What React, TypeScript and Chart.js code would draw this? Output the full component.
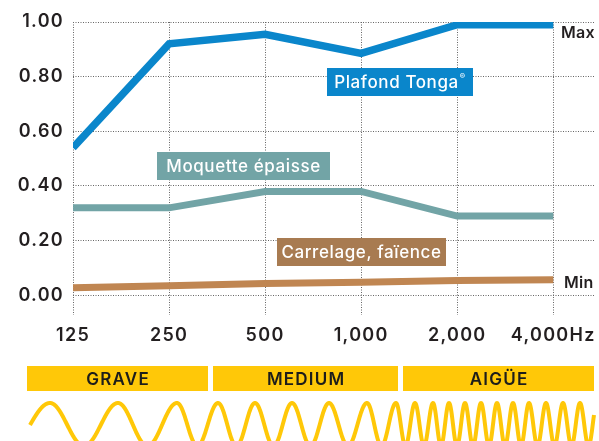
import React, { useEffect, useRef } from 'react';
import { Chart, registerables } from 'chart.js';

Chart.register(...registerables);

// ---- data ----
const frequencies = ['125', '250', '500', '1,000', '2,000', '4,000Hz'];
const plafondTonga = [0.54, 0.92, 0.955, 0.885, 0.99, 0.99];
const moquetteEpaisse = [0.32, 0.32, 0.38, 0.38, 0.29, 0.29];
const carrelageFaience = [0.028, 0.035, 0.043, 0.048, 0.054, 0.057];
const yTickValues = [0, 0.2, 0.4, 0.6, 0.8, 1.0];
const seriesNames = ['Plafond Tonga', 'Moquette épaisse', 'Carrelage, faïence'];
const bandLabels = ['GRAVE', 'MEDIUM', 'AIGÜE'];
const scaleEndLabels = ['Max', 'Min'];

// ---- styles / decoration layout ----
const FONT = 'Inter, "Noto Sans", sans-serif';
const TEXT = '#231f20';
const TICK_SPACING = '1.3px';
const colors = {
  blue: '#0a86cb',
  teal: '#72a4a6',
  brown: '#c08652',
  brownBox: '#a87b51',
  yellow: '#ffc808',
  grid: '#666666',
};

const seriesBoxes = [
  { x: 327, y: 68, w: 146, h: 28, bg: colors.blue, sup: '®' },
  { x: 157, y: 152, w: 173, h: 28, bg: colors.teal, sup: '' },
  { x: 277, y: 238, w: 169, h: 28, bg: colors.brownBox, sup: '' },
];

const bandBoxes = [
  { x0: 27, x1: 208 },
  { x0: 213, x1: 398 },
  { x0: 403, x1: 594 },
];
const bandTop = 366;
const bandBottom = 391;

const wave = {
  xStart: 30,
  xEnd: 594,
  startY: 425,
  peakY: 403,
  amp: 21.5,
  width: 4,
  peaks: [50, 118, 177, 218, 255, 292, 329, 367, 396, 415, 433, 449, 465, 481, 497, 513, 529, 546, 563, 580],
};

const setSpacing = (ctx: any, v: string) => {
  if ('letterSpacing' in ctx) ctx.letterSpacing = v;
};

const spacingPlugin = {
  id: 'spacing',
  beforeUpdate(chart: any) {
    setSpacing(chart.ctx, TICK_SPACING);
  },
  beforeDraw(chart: any) {
    setSpacing(chart.ctx, TICK_SPACING);
  },
};

const decorPlugin = {
  id: 'decor',
  afterDatasetsDraw(chart: any) {
    const ctx: CanvasRenderingContext2D = chart.ctx;
    ctx.save();
    setSpacing(ctx, '0.6px');
    seriesBoxes.forEach((b, i) => {
      ctx.fillStyle = b.bg;
      ctx.fillRect(b.x, b.y, b.w, b.h);
      const main = seriesNames[i];
      ctx.font = `500 17px ${FONT}`;
      const mw = ctx.measureText(main).width;
      ctx.font = `500 8px ${FONT}`;
      const sw = b.sup ? ctx.measureText(b.sup).width + 1 : 0;
      const tx = b.x + (b.w - mw - sw) / 2;
      const cy = b.y + b.h / 2 + 0.5;
      ctx.fillStyle = '#ffffff';
      ctx.textBaseline = 'middle';
      ctx.textAlign = 'left';
      ctx.font = `500 17px ${FONT}`;
      ctx.fillText(main, tx, cy);
      if (b.sup) {
        ctx.font = `500 8px ${FONT}`;
        ctx.fillText(b.sup, tx + mw + 1, cy - 6);
      }
    });
    ctx.restore();
  },
  afterDraw(chart: any) {
    const ctx: CanvasRenderingContext2D = chart.ctx;
    const yScale = chart.scales.y;
    ctx.save();
    // Max / Min labels
    setSpacing(ctx, '0.3px');
    ctx.fillStyle = TEXT;
    ctx.font = `600 16px ${FONT}`;
    ctx.textAlign = 'left';
    ctx.textBaseline = 'middle';
    ctx.fillText(scaleEndLabels[0], 561, yScale.getPixelForValue(1) + 11);
    ctx.fillText(scaleEndLabels[1], 564, yScale.getPixelForValue(0) - 12.5);

    // bands
    setSpacing(ctx, '1.2px');
    bandBoxes.forEach((b, i) => {
      ctx.fillStyle = colors.yellow;
      ctx.fillRect(b.x0, bandTop, b.x1 - b.x0, bandBottom - bandTop);
      ctx.fillStyle = '#1d1d1b';
      ctx.font = `600 17px ${FONT}`;
      ctx.textAlign = 'center';
      ctx.textBaseline = 'middle';
      ctx.fillText(bandLabels[i], (b.x0 + b.x1) / 2 + 0.6, (bandTop + bandBottom) / 2 + 1);
    });

    // waves
    const c = wave.peakY + wave.amp;
    const ratio = Math.max(-1, Math.min(1, (c - wave.startY) / wave.amp));
    const phi0 = Math.acos(ratio);
    const pk = wave.peaks;
    const phaseAt = (x: number) => {
      if (x <= pk[0]) return -phi0 * (pk[0] - x) / (pk[0] - wave.xStart);
      for (let k = 0; k < pk.length - 1; k++) {
        if (x <= pk[k + 1]) return 2 * Math.PI * (k + (x - pk[k]) / (pk[k + 1] - pk[k]));
      }
      const last = pk.length - 1;
      const per = pk[last] - pk[last - 1];
      return 2 * Math.PI * (last + (x - pk[last]) / per);
    };
    ctx.beginPath();
    for (let x = wave.xStart; x <= wave.xEnd; x += 0.25) {
      const y = c - wave.amp * Math.cos(phaseAt(x));
      if (x === wave.xStart) ctx.moveTo(x, y);
      else ctx.lineTo(x, y);
    }
    ctx.strokeStyle = colors.yellow;
    ctx.lineWidth = wave.width;
    ctx.lineJoin = 'round';
    ctx.lineCap = 'butt';
    ctx.stroke();
    ctx.restore();
  },
};

const toPoints = (arr: number[]) => arr.map((v, i) => ({ x: i, y: v }));

export default function App() {
  const ref = useRef<HTMLCanvasElement | null>(null);

  useEffect(() => {
    if (!ref.current) return;
    const tickFont = { family: FONT, size: 18, weight: 600 as any };
    const lineCommon = {
      pointRadius: 0,
      pointHoverRadius: 0,
      fill: false,
      tension: 0,
      borderCapStyle: 'butt' as const,
      borderJoinStyle: 'miter' as const,
    };
    const chart = new Chart(ref.current, {
      type: 'line',
      data: {
        datasets: [
          { ...lineCommon, label: seriesNames[2], data: toPoints(carrelageFaience), borderColor: colors.brown, borderWidth: 7 },
          { ...lineCommon, label: seriesNames[1], data: toPoints(moquetteEpaisse), borderColor: colors.teal, borderWidth: 7 },
          { ...lineCommon, label: seriesNames[0], data: toPoints(plafondTonga), borderColor: colors.blue, borderWidth: 7.5 },
        ],
      },
      options: {
        animation: false,
        responsive: false,
        maintainAspectRatio: false,
        layout: { padding: { left: 0, right: 5, top: 22, bottom: 96 } },
        plugins: { legend: { display: false }, tooltip: { enabled: false } },
        scales: {
          x: {
            type: 'linear',
            min: 0,
            max: 5.424,
            afterBuildTicks: (s: any) => {
              s.ticks = frequencies.map((_, i) => ({ value: i }));
            },
            afterFit: (s: any) => {
              s.height = 30;
              s.paddingRight = 0;
              s.paddingLeft = 0;
            },
            ticks: {
              callback: (v: any) => frequencies[v as number] ?? '',
              font: tickFont,
              color: TEXT,
              padding: 10,
              maxRotation: 0,
              autoSkip: false,
            },
            grid: { color: colors.grid, lineWidth: 1, drawTicks: false },
            border: { display: false, dash: [1, 1.5] },
          },
          y: {
            type: 'linear',
            min: -0.072,
            max: 1.0,
            afterBuildTicks: (s: any) => {
              s.ticks = yTickValues.map((v) => ({ value: v }));
            },
            afterFit: (s: any) => {
              s.width = 73;
            },
            ticks: {
              callback: (v: any) => Number(v).toFixed(2),
              font: tickFont,
              color: TEXT,
              padding: 9,
            },
            grid: { color: colors.grid, lineWidth: 1, drawTicks: false },
            border: { display: false, dash: [1, 1.5] },
          },
        },
      },
      plugins: [spacingPlugin, decorPlugin],
    });
    return () => chart.destroy();
  }, []);

  return (
    <div style={{ position: 'absolute', left: 0, top: 0, width: 599, height: 441, background: '#ffffff', overflow: 'hidden' }}>
      <canvas ref={ref} width={599} height={441} style={{ display: 'block', width: 599, height: 441 }} />
    </div>
  );
}
